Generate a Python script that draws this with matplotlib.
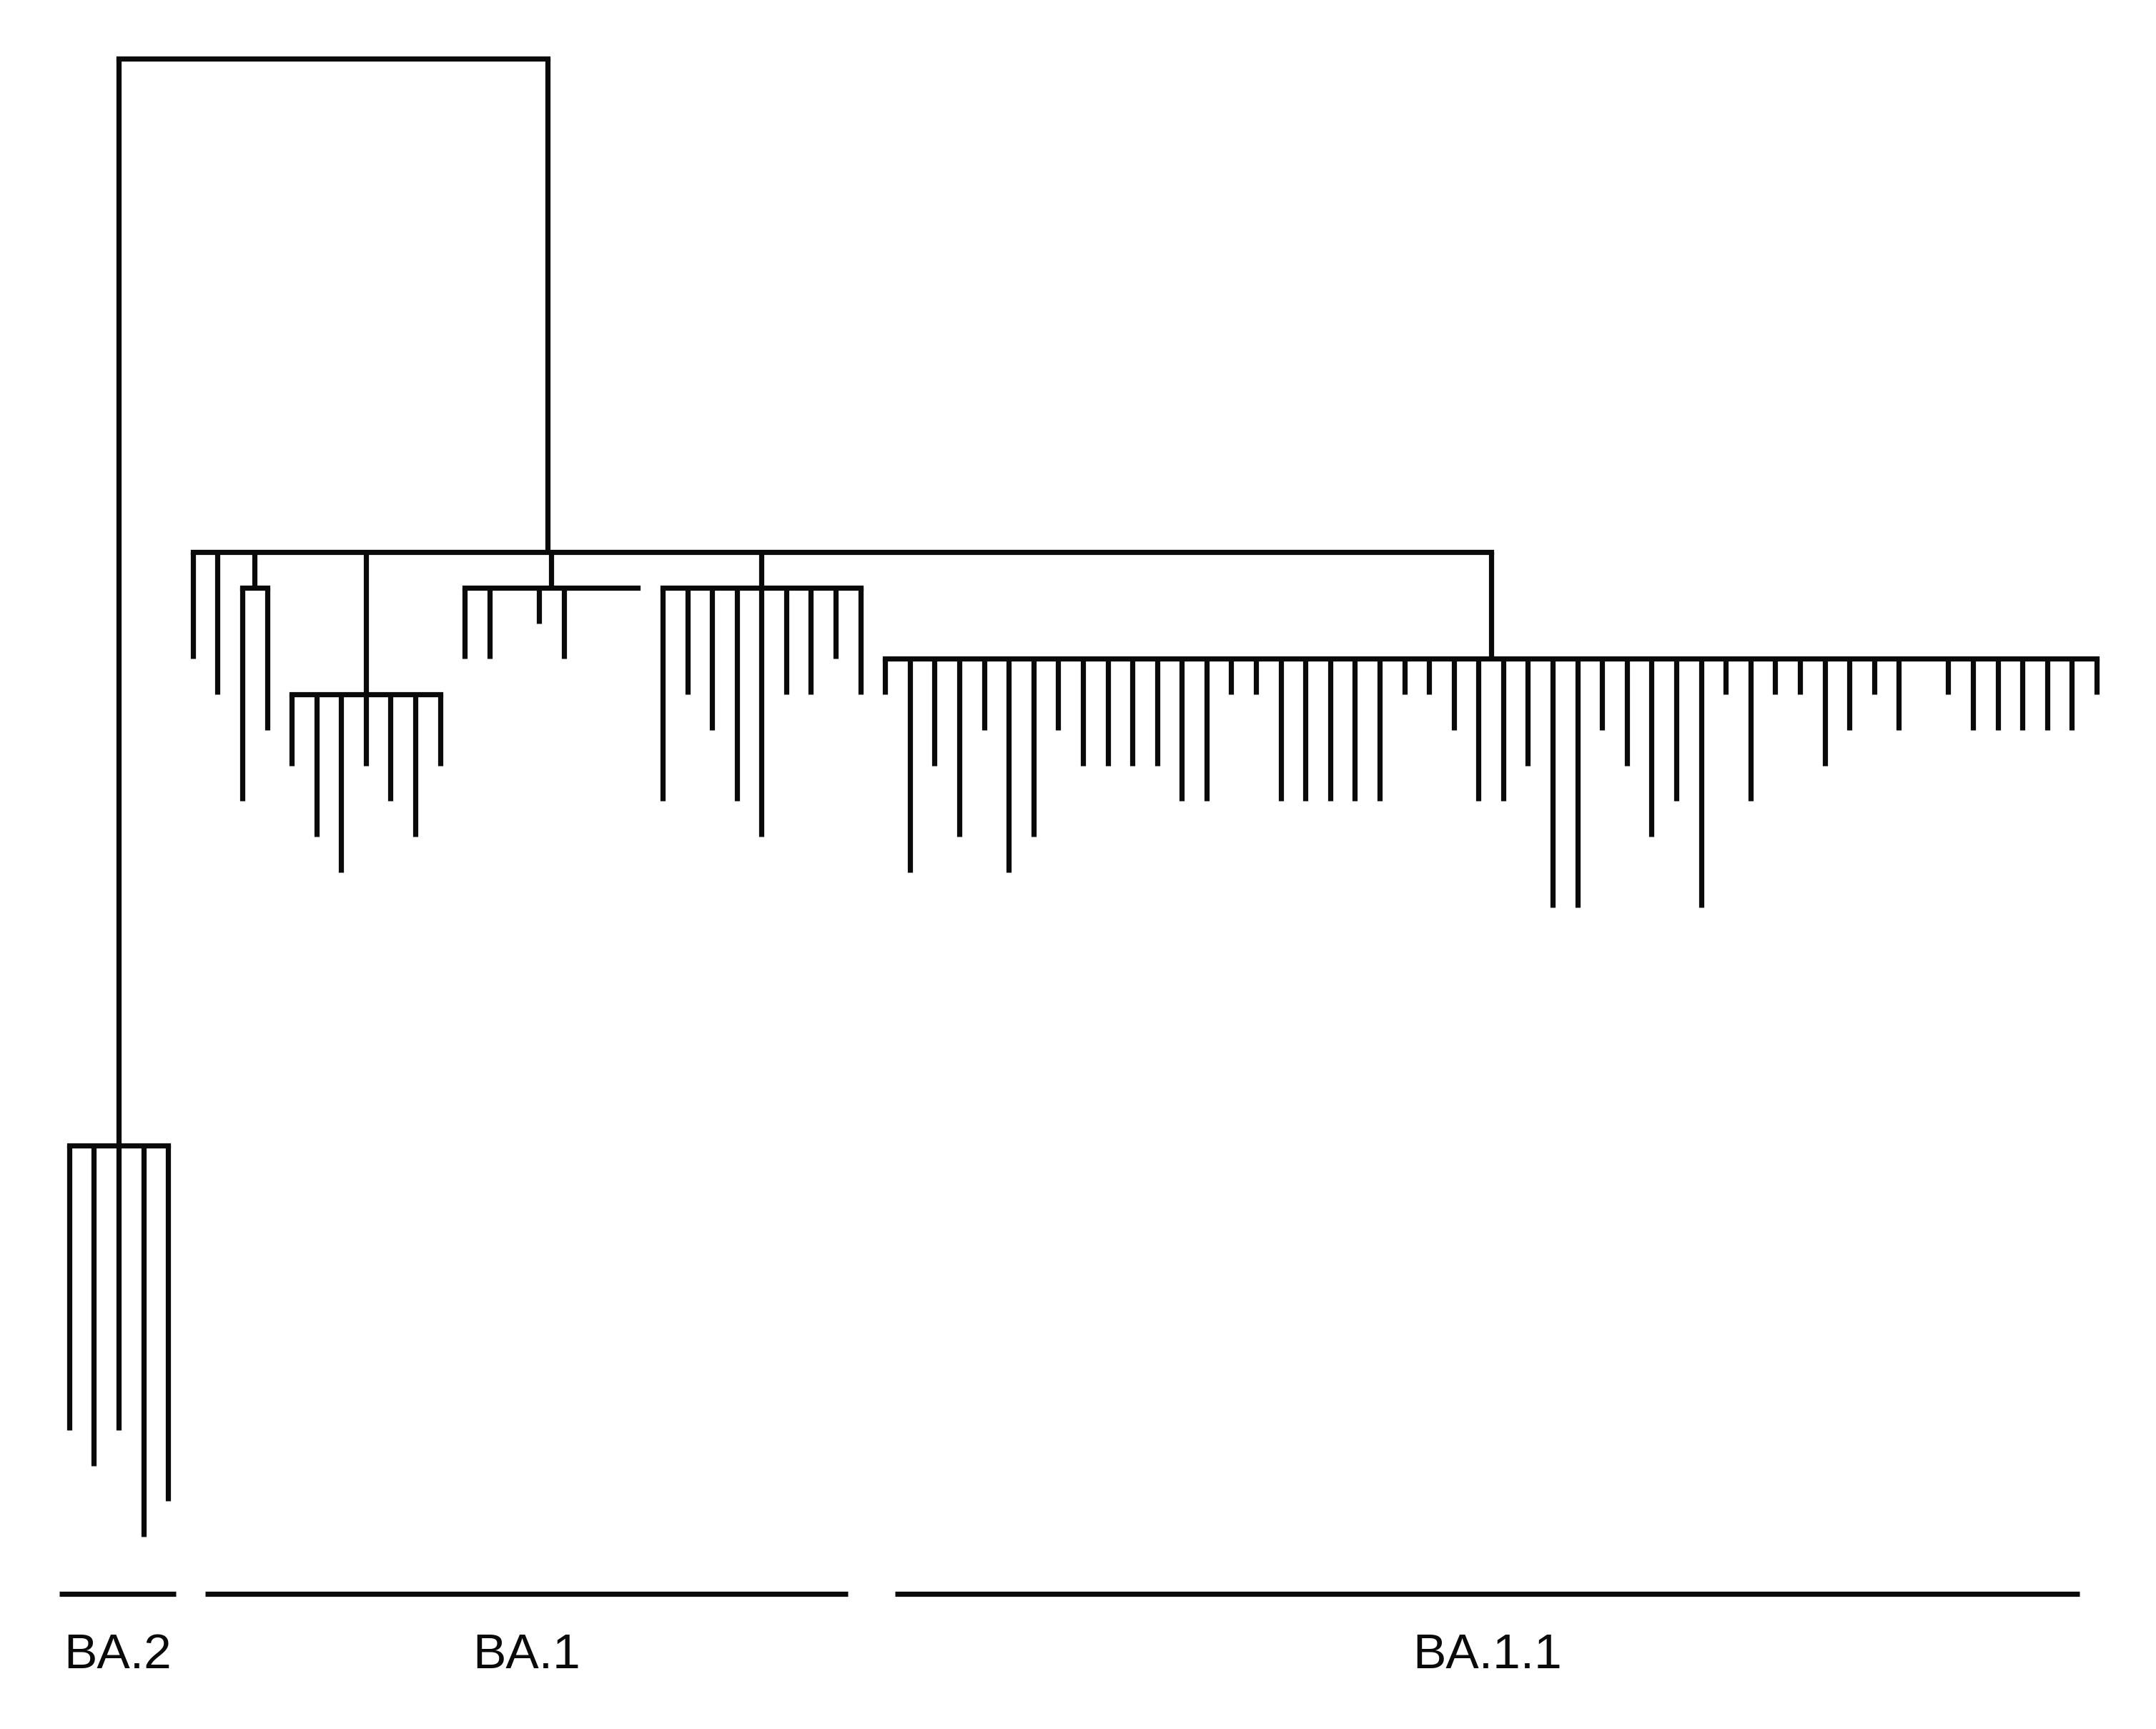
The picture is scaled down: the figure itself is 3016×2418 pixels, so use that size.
import matplotlib

matplotlib.use("Agg")
import matplotlib.pyplot as plt

# Branch lengths in mutation steps.
# A tip of length 0 sits on its parent's bar and is not drawn.
ROOT_TO_BA2 = 30.6
ROOT_TO_BA1 = 13.9

BA2_TIPS = [8, 9, 8, 11, 10]

BA1_TIP_A = 3
BA1_TIP_B = 4
BA1_SUB1_STEM = 1
BA1_SUB1_TIPS = [6, 4]
BA1_SUB2_STEM = 4
BA1_SUB2_TIPS = [2, 4, 5, 2, 3, 4, 2]
BA1_SUB3_STEM = 1
BA1_SUB3_TIPS = [2, 2, 0, 1, 2, 0, 0, 0]
BA1_SUB4_STEM = 1
BA1_SUB4_TIPS = [6, 3, 4, 6, 7, 3, 3, 2, 3]

BA11_STEM = 3
BA11_TIPS = [1, 6, 3, 5, 2, 6, 5, 2, 3, 3, 3, 3, 4, 4, 1, 1, 4, 4, 4, 4,
             4, 1, 1, 2, 4, 4, 3, 7, 7, 2, 3, 5, 4, 7, 1, 4, 1, 1, 3,
             2, 1, 2, 0, 1, 2, 2, 2, 2, 2, 1]

# lineage brackets under the tree, in tip-slot units
GROUP_NAMES = ["BA.2", "BA.1", "BA.1.1"]
GROUP_STARTS = [-0.4, 5.5, 33.4]
GROUP_ENDS = [4.3, 31.5, 81.3]
BRACKET_DEPTH = 43.2
LABEL_DEPTH = 45.3

LW = 5.2
INK = "#0a0a0a"


def tips(lengths):
    return [(t, None) for t in lengths]


def clade(stem, tip_lengths):
    return (stem, tips(tip_lengths))


tree = (0, [
    (ROOT_TO_BA2, tips(BA2_TIPS)),
    (ROOT_TO_BA1, [
        (BA1_TIP_A, None),
        (BA1_TIP_B, None),
        clade(BA1_SUB1_STEM, BA1_SUB1_TIPS),
        clade(BA1_SUB2_STEM, BA1_SUB2_TIPS),
        clade(BA1_SUB3_STEM, BA1_SUB3_TIPS),
        clade(BA1_SUB4_STEM, BA1_SUB4_TIPS),
        clade(BA11_STEM, BA11_TIPS),
    ]),
])

bars = []   # (x_min, x_max, depth)
drops = []  # (x, depth_top, depth_bottom)
next_slot = [0]


def layout(node, depth):
    length, kids = node
    y = depth + length
    if kids is None:
        x = next_slot[0]
        next_slot[0] += 1
        return x, y
    placed = [layout(k, y) for k in kids]
    xs = [p[0] for p in placed]
    bars.append((min(xs), max(xs), y))
    for cx, cy in placed:
        if cy > y:
            drops.append((cx, y, cy))
    return sum(xs) / len(xs), y


layout(tree, 0.0)

fig = plt.figure(figsize=(30.16, 24.18), dpi=100)
ax = fig.add_axes([0, 0, 1, 1])
ax.set_xlim(-2.8, 84.4)
ax.set_ylim(47.01, -1.64)
ax.axis("off")

ax.hlines([b[2] for b in bars], [b[0] for b in bars], [b[1] for b in bars],
          colors=INK, linewidth=LW, capstyle="projecting")
ax.vlines([d[0] for d in drops], [d[1] for d in drops], [d[2] for d in drops],
          colors=INK, linewidth=LW, capstyle="butt")

ax.hlines([BRACKET_DEPTH] * len(GROUP_NAMES), GROUP_STARTS, GROUP_ENDS,
          colors=INK, linewidth=LW, capstyle="butt")
for name, x0, x1 in zip(GROUP_NAMES, GROUP_STARTS, GROUP_ENDS):
    ax.text((x0 + x1) / 2, LABEL_DEPTH, name, ha="center", va="baseline",
            fontsize=50, family="Liberation Sans", color=INK)

fig.savefig("out.png", dpi=100, facecolor="white")
plt.close(fig)
